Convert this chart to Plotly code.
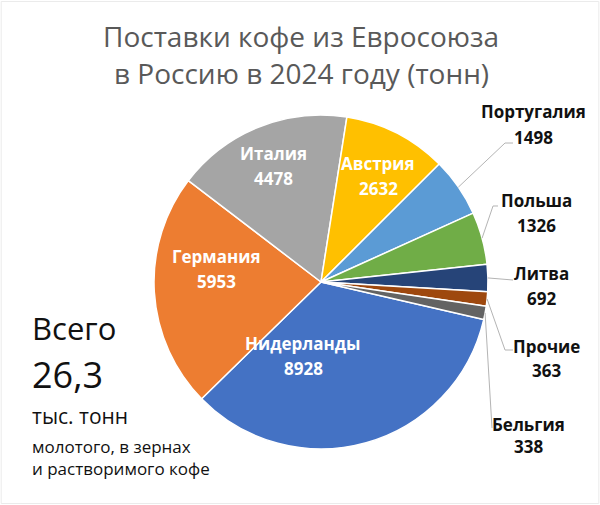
import math
import plotly.graph_objects as go

countries = ["Нидерланды", "Германия", "Италия", "Австрия", "Португалия",
             "Польша", "Литва", "Прочие", "Бельгия"]
values = [8928, 5953, 4478, 2632, 1498, 1326, 692, 363, 338]
colors = ["#4472C4", "#ED7D31", "#A5A5A5", "#FFC000", "#5B9BD5",
          "#70AD47", "#264478", "#9E480E", "#636363"]

W, H = 600, 505
CX, CY, R = 321, 282, 167
ROT = 103

fig = go.Figure(go.Pie(
    labels=countries, values=values, sort=False, direction="clockwise",
    rotation=ROT, textinfo="none", hoverinfo="label+value",
    marker=dict(colors=colors, line=dict(color="white", width=1.5)),
    domain=dict(x=[(CX - R) / W, (CX + R) / W], y=[1 - (CY + R) / H, 1 - (CY - R) / H]),
    showlegend=False,
))

def px(x, y):
    return x / W, 1 - y / H

annotations = []

def add_text(x, y, text, size, color, family="Open Sans", xanchor="center"):
    ax, ay = px(x, y)
    annotations.append(dict(x=ax, y=ay, xref="paper", yref="paper", showarrow=False,
                            xanchor=xanchor, yanchor="middle", text=text,
                            font=dict(family=family, size=size, color=color)))

# inside labels (pixel positions: x centre, y of name line, y of value line)
inside_pos = {"Италия": (273, 153, 178), "Австрия": (378, 163, 188),
              "Германия": (216, 256, 281), "Нидерланды": (303, 343, 368)}
for name, (x, y1, y2) in inside_pos.items():
    v = values[countries.index(name)]
    add_text(x, y1, f"<b>{name}</b>", 17, "white")
    add_text(x, y2, f"<b>{v}</b>", 17, "white")

# outside labels with leader lines
outside = {
    "Португалия": ((533, 112, 137), [(505, 143), (513, 143)]),
    "Польша": ((536, 200, 226), [(493, 206), (498, 206)]),
    "Литва": ((541, 273, 298), [(513, 280)]),
    "Прочие": ((546, 346, 370), [(505, 350), (513, 350)]),
    "Бельгия": ((528, 424, 446), [(492, 428)]),
}
total = sum(values)
shapes = []
cum = 0
for name, v in zip(countries, values):
    mid = ROT + (cum + v / 2) / total * 360
    cum += v
    if name in outside:
        (lx, ly1, ly2), pts = outside[name]
        a = math.radians(mid)
        sx, sy = CX + R * math.sin(a), CY - R * math.cos(a)
        path_pts = [(sx, sy)] + pts
        path = "M " + " L ".join(f"{x / W:.4f},{1 - y / H:.4f}" for x, y in path_pts)
        shapes.append(dict(type="path", xref="paper", yref="paper", path=path,
                           line=dict(color="#B4B4B4", width=1)))
        add_text(lx, ly1, f"<b>{name}</b>", 17, "#111111")
        add_text(lx, ly2, f"<b>{v}</b>", 17, "#111111")

# title
add_text(301, 36, "Поставки кофе из Евросоюза", 28, "#595959")
add_text(301, 73, "в Россию в 2024 году (тонн)", 28, "#595959")

# total block
add_text(30, 328, "Всего", 31, "#111111", xanchor="left")
add_text(30, 374, "26,3", 36, "#111111", xanchor="left")
add_text(30, 416, "тыс. тонн", 21, "#111111", xanchor="left")
add_text(30, 446, "молотого, в зернах", 17, "#111111", xanchor="left")
add_text(30, 468, "и растворимого кофе", 17, "#111111", xanchor="left")

# thin frame around the picture
shapes.append(dict(type="rect", xref="paper", yref="paper", x0=0.002, y0=0.003, x1=0.998, y1=0.997,
                   line=dict(color="#EBEBEB", width=1)))

fig.update_layout(width=W, height=H, margin=dict(l=0, r=0, t=0, b=0),
                  paper_bgcolor="white", plot_bgcolor="white",
                  annotations=annotations, shapes=shapes)
fig.write_html("out.html", config={"displayModeBar": False},
               post_script="document.body.style.margin='0';")
